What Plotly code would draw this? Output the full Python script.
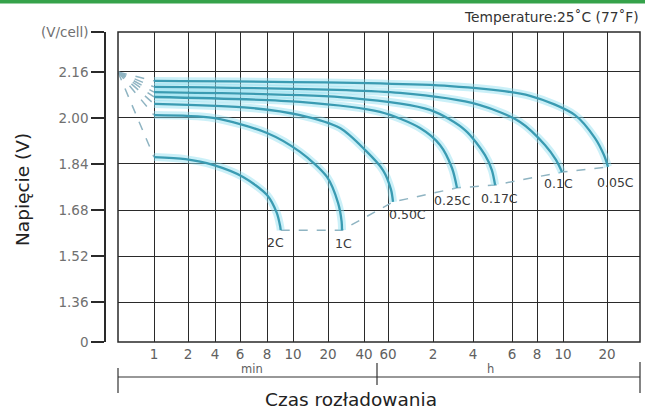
import numpy as np
import plotly.graph_objects as go

# ---------------- data ----------------
rates = ["2C", "1C", "0.50C", "0.25C", "0.17C", "0.1C", "0.05C"]

# discharge time in minutes, voltage in V/cell
t_2C = [1, 1.9, 3.8, 6.2, 8.0, 8.7, 8.95, 9.0]
v_2C = [1.864, 1.857, 1.837, 1.795, 1.732, 1.670, 1.625, 1.610]
t_1C = [1, 3.8, 8, 11.5, 19.6, 24.3, 26.0, 26.2]
v_1C = [2.010, 2.000, 1.948, 1.882, 1.795, 1.704, 1.640, 1.610]
t_050C = [1, 6.7, 11.5, 25.2, 40.7, 55.1, 62.9, 64.8]
v_050C = [2.049, 2.035, 2.010, 1.965, 1.889, 1.819, 1.750, 1.708]
t_025C = [1, 11.5, 52.4, 98.2, 135.5, 166.8, 181.9]
v_025C = [2.073, 2.056, 2.021, 1.965, 1.906, 1.826, 1.757]
t_017C = [1, 30.5, 114.5, 209, 272, 292, 302]
v_017C = [2.090, 2.070, 2.028, 1.958, 1.871, 1.819, 1.767]
t_01C = [1, 72.2, 258, 395, 514, 565, 595]
v_01C = [2.108, 2.087, 2.045, 1.986, 1.906, 1.854, 1.812]
t_005C = [1, 161, 443, 725, 993, 1144, 1219]
v_005C = [2.129, 2.111, 2.077, 2.010, 1.930, 1.871, 1.830]

times = [t_2C, t_1C, t_050C, t_025C, t_017C, t_01C, t_005C]
volts = [v_2C, v_1C, v_050C, v_025C, v_017C, v_01C, v_005C]

start_time = 0
start_volt = 2.16

x_tick_times = [1, 2, 4, 6, 8, 10, 20, 40, 60, 120, 240, 360, 480, 600, 1200]
x_tick_labels = ["1", "2", "4", "6", "8", "10", "20", "40", "60", "2", "4", "6", "8", "10", "20"]

y_bottom, y_top = 1.221, 2.299
y_tick_vals = [1.221, 1.36, 1.52, 1.68, 1.84, 2.00, 2.16, 2.299]
y_tick_labels = ["0", "1.36", "1.52", "1.68", "1.84", "2.00", "2.16", "(V/cell)"]

# ---------------- axis scale (non-uniform time grid of the original chart) ----------------
GRID_T = [0.5, 1, 2, 4, 6, 8, 10, 20, 40, 60, 120, 240, 360, 480, 600, 1200, 2000]
GRID_U = [0, 36, 70, 97, 122, 149, 175, 210, 246, 270, 315, 355, 394, 419, 445, 489, 522]


def to_axis(t):
    t = np.asarray(t, dtype=float)
    return np.interp(np.log10(np.maximum(t, 1e-9)), np.log10(GRID_T), GRID_U)


# ---------------- layout geometry ----------------
W, H = 645, 411
ML, MR, MT, MB = 105, 5, 32, 69
PW, PH = W - ML - MR, H - MT - MB


def px(xp):
    return (xp - ML) / PW


def py(yp):
    return (H - MB - yp) / PH


FONT = "DejaVu Sans, Verdana, sans-serif"
LINE = "#3a9bb2"
GLOW = "rgba(140,222,240,0.45)"
DASH = "#8fb4c2"
GRID = "#2a2a2a"
TXT = "#606060"

fig = go.Figure()

# dashed lines from the origin to each curve start
for t, v in zip(times, volts):
    fig.add_trace(go.Scatter(x=to_axis([start_time, t[0]]), y=[start_volt, v[0]],
                             mode="lines", line=dict(color=DASH, width=1.5, dash="dash"),
                             hoverinfo="skip", showlegend=False))

# dashed line joining the end points
end_t = [t[-1] for t in times]
end_v = [v[-1] for v in volts]
fig.add_trace(go.Scatter(x=to_axis(end_t), y=end_v, mode="lines",
                         line=dict(color=DASH, width=1.5, dash="dash"),
                         hoverinfo="skip", showlegend=False))

# glow + curves
for t, v in zip(times, volts):
    fig.add_trace(go.Scatter(x=to_axis(t), y=v, mode="lines",
                             line=dict(color=GLOW, width=8, shape="spline", smoothing=0.8),
                             hoverinfo="skip", showlegend=False))
for name, t, v in zip(rates, times, volts):
    fig.add_trace(go.Scatter(x=to_axis(t), y=v, mode="lines", name=name,
                             line=dict(color=LINE, width=2.3, shape="spline", smoothing=0.8),
                             showlegend=False))

# rate labels
label_off = {"2C": (-5, -12, "center"), "1C": (1, -13, "center"), "0.50C": (-6, -13, "left"),
             "0.25C": (-5, -13, "center"), "0.17C": (4, -14, "center"),
             "0.1C": (-4, -11, "center"), "0.05C": (7, -16, "center")}
for name, t, v in zip(rates, times, volts):
    dx, dy, anc = label_off[name]
    fig.add_annotation(x=float(to_axis([t[-1]])[0]), y=v[-1], text=name, showarrow=False,
                       xshift=dx, yshift=dy, xanchor=anc, yanchor="middle",
                       font=dict(family=FONT, size=12.5, color="#3a3a3a"))

shapes = [
    # plot box
    dict(type="rect", xref="x domain", yref="y domain", x0=0, x1=1, y0=0, y1=1,
         line=dict(color=GRID, width=1.5)),
    # green top bar
    dict(type="rect", xref="paper", yref="paper", x0=px(0), x1=px(W), y0=py(3.5), y1=py(-2),
         line=dict(width=0), fillcolor="#35a24a"),
    # bracket below the x axis
    dict(type="line", xref="paper", yref="paper", x0=px(118), x1=px(640), y0=py(377), y1=py(377),
         line=dict(color="#333333", width=1.2)),
    dict(type="line", xref="paper", yref="paper", x0=px(118), x1=px(118), y0=py(368), y1=py(393),
         line=dict(color="#333333", width=1.2)),
    dict(type="line", xref="paper", yref="paper", x0=px(377), x1=px(377), y0=py(363), y1=py(385),
         line=dict(color="#333333", width=1.2)),
    dict(type="line", xref="paper", yref="paper", x0=px(640), x1=px(640), y0=py(362), y1=py(393),
         line=dict(color="#333333", width=1.2)),
]

annotations = [
    dict(x=px(252), y=py(369), text="min", font=dict(family=FONT, size=11.5, color=TXT)),
    dict(x=px(490), y=py(369), text="h", font=dict(family=FONT, size=11.5, color=TXT)),
    dict(x=px(351), y=py(399), text="Czas rozładowania", font=dict(family=FONT, size=18.5, color="#222222")),
    dict(x=px(22), y=py(190), text="Napięcie (V)", textangle=-90,
         font=dict(family=FONT, size=18.5, color="#222222")),
]
for a in annotations:
    fig.add_annotation(xref="paper", yref="paper", showarrow=False, xanchor="center", yanchor="middle", **a)
fig.add_annotation(xref="paper", yref="paper", x=px(641), y=py(17), xanchor="right", yanchor="middle",
                   text="Temperature:25˚C (77˚F)", showarrow=False,
                   font=dict(family=FONT, size=13.8, color="#333333"))

fig.update_layout(
    width=W, height=H,
    margin=dict(l=ML, r=MR, t=MT, b=MB, autoexpand=False),
    paper_bgcolor="white", plot_bgcolor="white",
    shapes=shapes,
    showlegend=False,
    xaxis=dict(domain=[px(118), px(640)], range=[0, 522], type="linear",
               tickmode="array", tickvals=to_axis(x_tick_times), ticktext=x_tick_labels,
               showgrid=True, gridcolor=GRID, gridwidth=1.3, zeroline=False,
               showline=False, ticks="", ticklabelstandoff=2,
               tickfont=dict(family=FONT, size=13.5, color=TXT)),
    yaxis=dict(anchor="free", position=0, range=[y_bottom, y_top], type="linear",
               tickmode="array", tickvals=y_tick_vals, ticktext=y_tick_labels,
               showgrid=True, gridcolor=GRID, gridwidth=1.3, zeroline=False,
               showline=True, linecolor=GRID, linewidth=1.5,
               ticks="outside", ticklen=13, tickcolor=GRID, tickwidth=1.5,
               tickfont=dict(family=FONT, size=13.5, color="#707070")),
)

fig.write_html("out.html", config={"displayModeBar": False},
               post_script="document.body.style.margin='0';document.body.style.overflow='hidden';")
